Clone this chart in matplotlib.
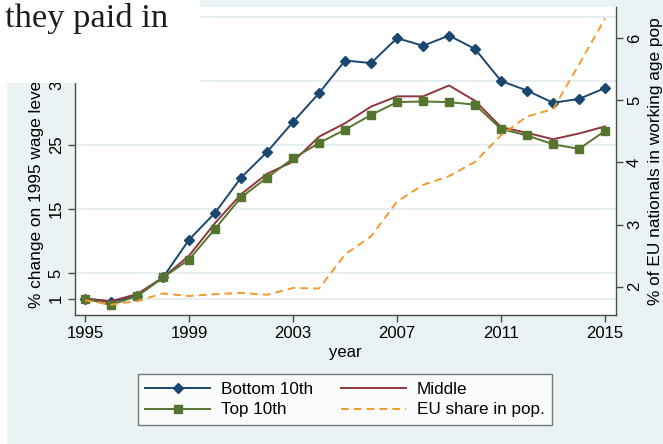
import matplotlib
matplotlib.use("Agg")
import matplotlib.pyplot as plt
from matplotlib.patches import Rectangle

# ---- data ----
years = list(range(1995, 2016))
bottom10 = [1.0, 0.5, 1.4, 4.3, 10.2, 14.4, 19.9, 23.9, 28.6, 33.1, 38.2,
            37.8, 41.7, 40.5, 42.1, 40.0, 35.0, 33.5, 31.6, 32.2, 33.9]
middle = [1.0, 0.6, 1.7, 4.3, 7.7, 12.8, 17.3, 20.5, 22.4, 26.3, 28.4,
          31.0, 32.6, 32.6, 34.3, 31.9, 27.8, 26.9, 25.9, 26.8, 27.9]
top10 = [1.0, 0.0, 1.4, 4.3, 7.1, 11.9, 16.8, 19.9, 22.9, 25.3, 27.4,
         29.7, 31.7, 31.8, 31.7, 31.3, 27.5, 26.5, 25.1, 24.4, 27.2]
eu_share = [1.78, 1.71, 1.77, 1.89, 1.85, 1.88, 1.90, 1.87, 1.98, 1.97, 2.52,
            2.81, 3.37, 3.64, 3.78, 4.01, 4.44, 4.74, 4.86, 5.58, 6.32]

xticks = [1995, 1999, 2003, 2007, 2011, 2015]
left_ticks = [1, 5, 15, 25, 35]
grid_extra = [45]
right_ticks = [2, 3, 4, 5, 6]

labels = ["Bottom 10th", "Middle", "Top 10th", "EU share in pop."]

# ---- style ----
plt.rcParams["font.family"] = ["Liberation Sans", "DejaVu Sans"]
BG = "#eaf2f3"
GRID = "#e3edef"
SPINE = "#4a4a4a"
C_BOT = "#1a476f"
C_MID = "#90353b"
C_TOP = "#55752f"
C_EU = "#f29a30"
FS = 12

W, H = 663, 444
fig = plt.figure(figsize=(W / 100, H / 100), dpi=100, facecolor=BG)

L, R, T, B = 75, 616, 7, 315
ax = fig.add_axes([L / W, 1 - B / H, (R - L) / W, (B - T) / H])
ax.set_facecolor("white")
ax2 = ax.twinx()

ax.plot(years, bottom10, color=C_BOT, lw=1.4, marker="D", ms=5.2, label=labels[0])
ax.plot(years, middle, color=C_MID, lw=1.4, label=labels[1])
ax.plot(years, top10, color=C_TOP, lw=1.4, marker="s", ms=5.8, label=labels[2])
ax2.plot(years, eu_share, color=C_EU, lw=1.4, dashes=(4, 2.6), label=labels[3])

ax.set_xlim(1994.615, 2015.42)
ax.set_ylim(-1.56, 46.56)
ax2.set_ylim(1.544, 6.504)

ax.set_xticks(xticks)
ax.set_yticks(left_ticks)
ax2.set_yticks(right_ticks)
ax.set_xticklabels([str(x) for x in xticks], fontsize=FS)
ax.set_yticklabels([str(v) for v in left_ticks], fontsize=FS, rotation=90, va="center")
ax2.set_yticklabels([str(v) for v in right_ticks], fontsize=FS, rotation=90, va="center")

ax.yaxis.grid(True, color=GRID, lw=1.3)
for g in grid_extra:
    ax.axhline(g, color=GRID, lw=1.3, zorder=0)
ax.set_axisbelow(True)

for a in (ax, ax2):
    for s in a.spines.values():
        s.set_color(SPINE)
        s.set_linewidth(1.0)
    a.spines["top"].set_visible(False)
ax.spines["right"].set_visible(False)
ax2.spines["left"].set_visible(False)
ax2.spines["bottom"].set_visible(False)

ax.tick_params(axis="both", direction="out", length=5, width=1, color=SPINE, pad=3)
ax2.tick_params(axis="y", direction="out", length=5, width=1, color=SPINE, pad=3)

ax.set_xlabel("year", fontsize=FS, labelpad=3)
ax2.set_ylabel("% of EU nationals in working age pop", fontsize=12.4, labelpad=4)

fig.text(37 / W, 1 - 308 / H, "% change on 1995 wage level", rotation=90,
         fontsize=12.4, ha="center", va="bottom")

h1, l1 = ax.get_legend_handles_labels()
h2, l2 = ax2.get_legend_handles_labels()
handles = [h1[0], h1[2], h1[1], h2[0]]
leg = fig.legend(handles, [labels[0], labels[2], labels[1], labels[3]], ncol=2,
                 loc="center", bbox_to_anchor=(345 / W, 1 - 399.5 / H),
                 fontsize=12.3, frameon=True, fancybox=False, handlelength=3.8,
                 handletextpad=0.65, columnspacing=1.6, labelspacing=0.35,
                 borderpad=0.45, numpoints=1)
leg.get_frame().set_edgecolor("#555555")
leg.get_frame().set_linewidth(1.0)
leg.get_frame().set_facecolor("white")

# overlay from the surrounding document
fig.patches.append(Rectangle((0, 1 - 83 / H), 200 / W, 83 / H, transform=fig.transFigure,
                             facecolor="white", edgecolor="none", zorder=5))
fig.patches.append(Rectangle((0, 0), 7 / W, 1, transform=fig.transFigure,
                             facecolor="white", edgecolor="none", zorder=5))
fig.text(5 / W, 1 - 27 / H, "they paid in", fontsize=24.8, family=["Liberation Serif"],
         color="#1c1c1c", ha="left", va="baseline", zorder=6)

fig.savefig("out.png", dpi=100, facecolor=BG)
